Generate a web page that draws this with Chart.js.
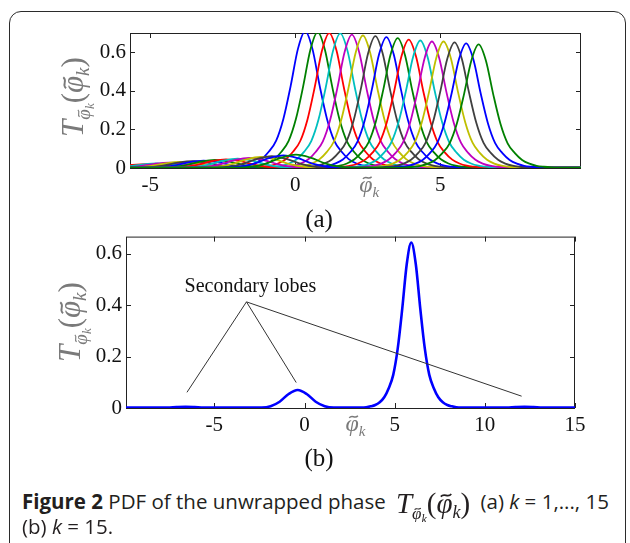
<!DOCTYPE html>
<html>
<head>
<meta charset="utf-8">
<script src="https://cdn.jsdelivr.net/npm/chart.js@4.4.1/dist/chart.umd.min.js"></script>
<style>
    body { margin: 0; background: #fff; }
    #page { position: relative; width: 630px; height: 543px; overflow: hidden; background: #fff; }
    #frame { position: absolute; left: 9px; top: 11px; width: 617px; height: 545px;
             border: 1.5px solid #2b2b2b; border-radius: 12px; box-sizing: border-box; }
    .plot { position: absolute; left: 0; width: 630px; }
    .panel { position: absolute; left: 0; width: 638px; text-align: center;
             font-family: "Liberation Serif", serif; font-size: 25px; color: #111; line-height: 1; }
    .caption { position: absolute; left: 22px; width: 610px; white-space: nowrap; height: 25px;
               font-family: "Open Sans", sans-serif; font-size: 20.5px; line-height: 25px; color: #231f20; }
    #caption-math { vertical-align: -9px; margin: -6px 0 -4px 0; }
</style>
</head>
<body>
<div id="page">
    <div id="frame"></div>
    <div class="plot" style="top:0; height:230px;"><canvas id="chart-a"></canvas></div>
    <div class="plot" style="top:220px; height:240px;"><canvas id="chart-b"></canvas></div>
    <div class="panel" style="top:206px;">(a)</div>
    <div class="panel" style="top:445px;">(b)</div>
    <div class="caption" style="top:489px;"><b>Figure 2</b> PDF of the unwrapped phase <canvas id="caption-math" width="84" height="34"></canvas> (a) <i>k</i> = 1,..., 15</div>
    <div class="caption" style="top:514px;">(b) <i>k</i> = 15.</div>
</div>
<script>
// axis ticks
var xTicksA = [-5, 0, 5];
var xTicksB = [-5, 0, 5, 10, 15];
var yTicks = [0, 0.2, 0.4, 0.6];

// (a) one curve per k: main peak position / height, secondary lobe height
var peakPos = [0.34, 0.77, 1.17, 1.55, 1.95, 2.33, 2.76, 3.14, 3.53, 3.91, 4.31, 4.71, 5.11, 5.49, 5.89, 6.32];
var peakHeight = [0.71, 0.705, 0.70, 0.698, 0.692, 0.687, 0.684, 0.679, 0.673, 0.666, 0.661, 0.656, 0.656, 0.651, 0.646, 0.641];
var lobeHeight = [0.012, 0.016, 0.02, 0.024, 0.028, 0.031, 0.035, 0.038, 0.042, 0.045, 0.049, 0.053, 0.057, 0.061, 0.065, 0.069];
var lobeShift = -6.3;
var curveColors = ["#0000ff", "#008000", "#ff0000", "#00bfbf", "#bf00bf", "#bfbf00", "#404040",
                   "#0000ff", "#008000", "#ff0000", "#00bfbf", "#bf00bf", "#bfbf00", "#404040",
                   "#0000ff", "#008000"];

// (b) k = 15
var peakPosB = 5.92;
var peakHeightB = 0.644;
var lobePosB = [-6.6, -0.38, 12.2];
var lobeHeightB = [0.005, 0.07, 0.005];

// pdf profile around a peak (offset, fraction of the peak height)
var peakShapeDx = [-3, -2.75, -2.5, -2.25, -2, -1.75, -1.5, -1.25, -1, -0.75, -0.5, -0.25, 0,
                   0.25, 0.5, 0.75, 1, 1.25, 1.5, 1.75, 2, 2.25, 2.5, 2.75, 3];
var peakShapeRel = [0, 0.002, 0.005, 0.01, 0.018, 0.035, 0.065, 0.12, 0.2, 0.36, 0.6, 0.87, 1,
                    0.87, 0.6, 0.36, 0.2, 0.12, 0.065, 0.035, 0.018, 0.01, 0.005, 0.002, 0];
var lobeShapeDx = [-2, -1.5, -1, -0.5, 0, 0.5, 1, 1.5, 2];
var lobeShapeRel = [0, 0.1, 0.35, 0.78, 1, 0.78, 0.35, 0.1, 0];
var baseLevel = 0.002;

// "Secondary lobes" pointer lines (b)
var labelPos = [-3.0, 0.47];
var pointerFrom = [-3.22, 0.413];
var pointerToX = [-6.52, -0.46, 12.04];
var pointerToY = [0.061, 0.099, 0.046];

function buildCurve(peak, height, lobeX, lobeH) {
    var pts = [{ x: -14, y: baseLevel }, { x: 18, y: baseLevel }];
    lobeX.forEach(function (c, j) {
        lobeShapeDx.forEach(function (d, n) {
            pts.push({ x: c + d, y: Math.max(baseLevel, lobeH[j] * lobeShapeRel[n]) });
        });
    });
    peakShapeDx.forEach(function (d, n) {
        pts.push({ x: peak + d, y: Math.max(baseLevel, height * peakShapeRel[n]) });
    });
    return pts.sort(function (a, b) { return a.x - b.x; });
}

var serif = "'Liberation Serif', 'Times New Roman', serif";

// math-ish text as runs: [text, size factor, baseline shift, italic, tilde]
function drawRuns(ctx, runs, size, color) {
    var total = 0;
    runs.forEach(function (r) {
        ctx.font = (r[3] ? "italic " : "") + Math.round(size * r[1]) + "px " + serif;
        r.w = ctx.measureText(r[0]).width;
        total += r.w;
    });
    var x = -total / 2;
    ctx.fillStyle = color;
    ctx.strokeStyle = color;
    ctx.textBaseline = "alphabetic";
    ctx.textAlign = "left";
    runs.forEach(function (r) {
        var fs = Math.round(size * r[1]);
        var base = 0.3 * size + r[2] * size;
        ctx.font = (r[3] ? "italic " : "") + fs + "px " + serif;
        ctx.fillText(r[0], x, base);
        if (r[4]) {
            // tilde accent over the phi
            var cx = x + r.w * 0.6, ty = base - 0.6 * fs;
            var tw = 0.36 * fs, amp = 0.045 * fs;
            ctx.lineWidth = Math.max(0.8, 0.06 * fs);
            ctx.beginPath();
            ctx.moveTo(cx - tw / 2, ty + amp);
            ctx.bezierCurveTo(cx - tw / 6, ty - 2.4 * amp, cx + tw / 6, ty + 2.4 * amp, cx + tw / 2, ty - amp);
            ctx.stroke();
        }
        x += r.w;
    });
}

var pdfLabel = [["T", 1, 0, true], ["φ", 0.6, 0.22, true, true], ["k", 0.42, 0.36, true],
                ["(", 1, 0, false], ["φ", 1, 0, true, true], ["k", 0.62, 0.18, true], [")", 1, 0, false]];
var phiLabel = [["φ", 1, 0, true, true], ["k", 0.62, 0.18, true]];

function axesPlugin(opts) {
    return {
        id: "matlabAxes",
        beforeDatasetsDraw: function (chart) {
            var ctx = chart.ctx, a = chart.chartArea;
            var sx = chart.scales.x, sy = chart.scales.y;
            ctx.save();
            ctx.strokeStyle = "#222";
            ctx.lineWidth = 1;
            ctx.strokeRect(a.left + 0.5, a.top + 0.5, a.right - a.left - 1, a.bottom - a.top);
            ctx.beginPath();
            opts.xTicks.forEach(function (v) {
                var px = Math.round(sx.getPixelForValue(v)) + 0.5;
                ctx.moveTo(px, a.bottom); ctx.lineTo(px, a.bottom - 5);
                ctx.moveTo(px, a.top); ctx.lineTo(px, a.top + 5);
            });
            yTicks.forEach(function (v) {
                var py = Math.round(sy.getPixelForValue(v)) + 0.5;
                ctx.moveTo(a.left, py); ctx.lineTo(a.left + 5, py);
                ctx.moveTo(a.right, py); ctx.lineTo(a.right - 5, py);
            });
            ctx.stroke();
            ctx.restore();
        },
        afterDatasetsDraw: function (chart) {
            var ctx = chart.ctx, a = chart.chartArea;
            var sx = chart.scales.x, sy = chart.scales.y;
            ctx.save();
            // x symbol sitting in the tick label row
            ctx.translate(sx.getPixelForValue(opts.symbolX), a.bottom + opts.symbolDy);
            drawRuns(ctx, phiLabel, 24, "#7a7a7a");
            ctx.restore();

            ctx.save();
            ctx.translate(opts.titleX, opts.titleY);
            ctx.rotate(-Math.PI / 2);
            drawRuns(ctx, pdfLabel, 31, "#7a7a7a");
            ctx.restore();

            if (opts.pointers) {
                ctx.save();
                ctx.strokeStyle = "#333";
                ctx.lineWidth = 1;
                ctx.beginPath();
                var fx = sx.getPixelForValue(pointerFrom[0]), fy = sy.getPixelForValue(pointerFrom[1]);
                pointerToX.forEach(function (v, i) {
                    ctx.moveTo(fx, fy);
                    ctx.lineTo(sx.getPixelForValue(v), sy.getPixelForValue(pointerToY[i]));
                });
                ctx.stroke();
                ctx.font = "20px " + serif;
                ctx.fillStyle = "#111";
                ctx.textAlign = "center";
                ctx.textBaseline = "middle";
                ctx.fillText("Secondary lobes", sx.getPixelForValue(labelPos[0]), sy.getPixelForValue(labelPos[1]));
                ctx.restore();
            }
        }
    };
}

function makeScales(xMin, xMax, xTicks, yMax, yWidth, xHeight) {
    var tickFont = { family: serif, size: 21 };
    return {
        x: {
            type: "linear", min: xMin, max: xMax,
            afterBuildTicks: function (s) { s.ticks = xTicks.map(function (v) { return { value: v }; }); },
            afterFit: function (s) { s.height = xHeight; },
            grid: { display: false, drawTicks: false },
            border: { display: false },
            ticks: { font: tickFont, color: "#111", padding: 5, maxRotation: 0, autoSkip: false,
                     callback: function (v) { return String(v); } }
        },
        y: {
            type: "linear", min: 0, max: yMax,
            afterBuildTicks: function (s) { s.ticks = yTicks.map(function (v) { return { value: v }; }); },
            afterFit: function (s) { s.width = yWidth; },
            grid: { display: false, drawTicks: false },
            border: { display: false },
            ticks: { font: tickFont, color: "#111", padding: 4, autoSkip: false,
                     callback: function (v) { return v === 0 ? "0" : v.toFixed(1); } }
        }
    };
}

var datasetsA = peakPos.map(function (p, i) {
    return {
        data: buildCurve(p, peakHeight[i], [p + lobeShift], [lobeHeight[i]]),
        borderColor: curveColors[i],
        borderWidth: 1.8,
        pointRadius: 0,
        cubicInterpolationMode: "monotone",
        order: peakPos.length - i
    };
});

new Chart(document.getElementById("chart-a"), {
    type: "line",
    data: { datasets: datasetsA },
    options: {
        responsive: true,
        maintainAspectRatio: false,
        animation: false,
        parsing: false,
        layout: { padding: { top: 33, right: 49, left: 0, bottom: 0 } },
        scales: makeScales(-5.7, 9.85, xTicksA, 0.7, 130, 62),
        plugins: { legend: { display: false }, tooltip: { enabled: false } }
    },
    plugins: [axesPlugin({ xTicks: xTicksA, symbolX: 2.55, symbolDy: 17, titleX: 74, titleY: 97 })]
});

new Chart(document.getElementById("chart-b"), {
    type: "line",
    data: {
        datasets: [{
            data: buildCurve(peakPosB, peakHeightB, lobePosB, lobeHeightB),
            borderColor: "#0000ff",
            borderWidth: 2.6,
            pointRadius: 0,
            cubicInterpolationMode: "monotone"
        }]
    },
    options: {
        responsive: true,
        maintainAspectRatio: false,
        animation: false,
        parsing: false,
        layout: { padding: { top: 11, right: 55, left: 0, bottom: 0 } },
        scales: makeScales(-9.9, 15, xTicksB, 0.667, 126, 52),
        plugins: { legend: { display: false }, tooltip: { enabled: false } }
    },
    plugins: [axesPlugin({ xTicks: xTicksB, symbolX: 2.83, symbolDy: 16, titleX: 71, titleY: 102, pointers: true })]
});

// the pdf symbol inside the caption line
var capCanvas = document.getElementById("caption-math");
var capCtx = capCanvas.getContext("2d");
capCtx.translate(capCanvas.width / 2, 16);
drawRuns(capCtx, pdfLabel, 29, "#231f20");
</script>
</body>
</html>
